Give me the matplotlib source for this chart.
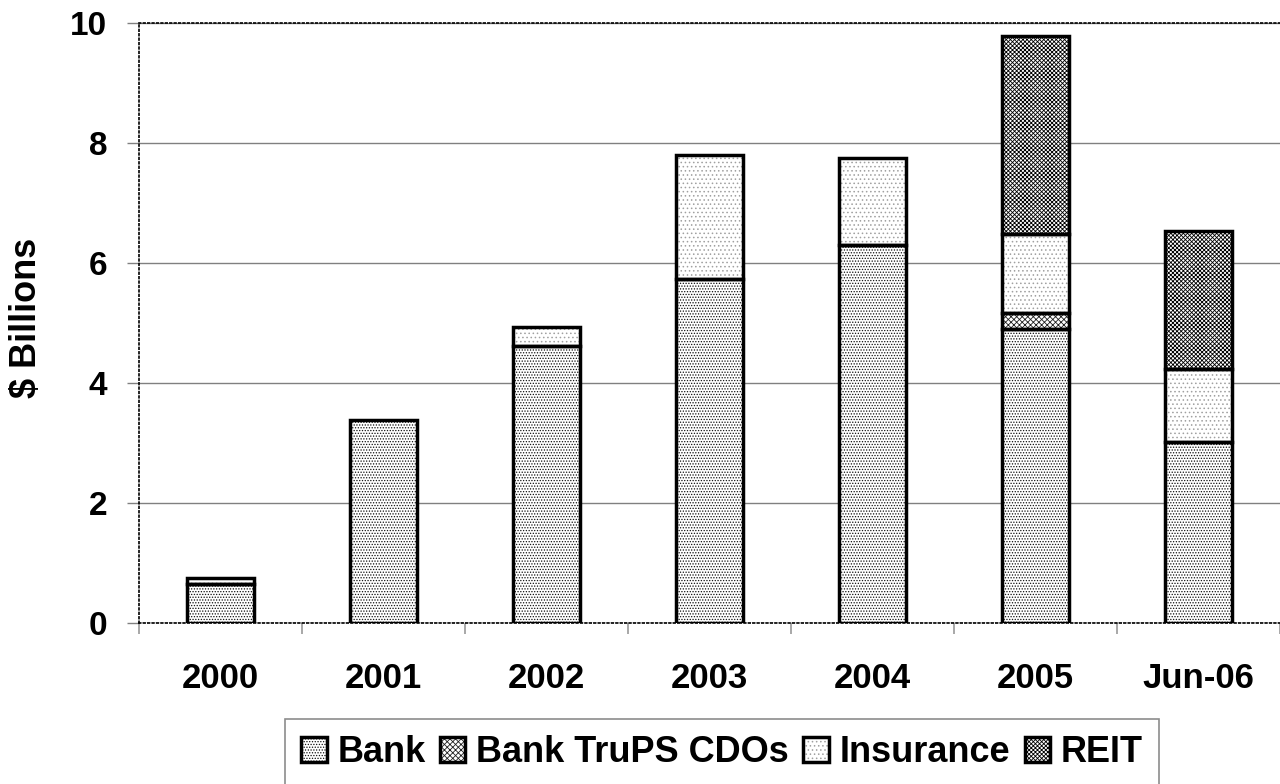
import matplotlib
matplotlib.use("Agg")
import matplotlib.pyplot as plt
import numpy as np
from matplotlib.ticker import FixedLocator

plt.rcParams['font.family'] = ['Liberation Sans', 'DejaVu Sans']
plt.rcParams['font.weight'] = 'bold'
plt.rcParams['hatch.linewidth'] = 0.6

periods = ["2000", "2001", "2002", "2003", "2004", "2005", "Jun-06"]
bank = [0.65, 3.38, 4.62, 5.73, 6.30, 4.90, 3.02]
bank_trups_cdos = [0.00, 0.00, 0.00, 0.00, 0.00, 0.27, 0.00]
insurance = [0.10, 0.00, 0.31, 2.07, 1.45, 1.31, 1.21]
reit = [0.00, 0.00, 0.00, 0.00, 0.00, 3.30, 2.30]

# name, values, hatch pattern, hatch colour
series = [
    ("Bank", bank, "......", "#101010"),
    ("Bank TruPS CDOs", bank_trups_cdos, "xxxxxx", "#202020"),
    ("Insurance", insurance, "....", "#a0a0a0"),
    ("REIT", reit, "xxxxxxxx", "#000000"),
]

fig = plt.figure(figsize=(12.8, 7.84), dpi=100)
ax = fig.add_axes([139 / 1280, 1 - 623 / 784, 1 - 139 / 1280, 600 / 784])

x = np.arange(len(periods))
bar_w = 0.41
bottom = np.zeros(len(periods))
handles = []
for name, vals, hatch, hcol in series:
    vals = np.array(vals)
    mask = vals > 0
    # textured fill
    fill = ax.bar(x[mask], vals[mask], width=bar_w, bottom=bottom[mask],
                  facecolor="white", edgecolor=hcol, linewidth=0,
                  hatch=hatch, zorder=3)
    # solid outline on top
    edge = ax.bar(x[mask], vals[mask], width=bar_w, bottom=bottom[mask],
                  fill=False, edgecolor="black", linewidth=2.5, zorder=4)
    handles.append((fill, edge))
    bottom = bottom + vals

ax.set_xlim(-0.5, len(periods) - 0.5)
ax.set_ylim(0, 10)

# y axis
ax.set_yticks(np.arange(0, 11, 2))
ax.tick_params(axis="y", direction="out", length=9, width=1, color="#808080",
               labelsize=24, pad=14)
ax.yaxis.grid(True, color="#808080", linewidth=1, zorder=0)
ax.set_ylabel("$ Billions", fontsize=26, fontweight="bold")
ax.yaxis.set_label_coords(-0.083, 0.508)

# x axis: labels at centers, ticks at boundaries
ax.set_xticks(x)
ax.set_xticklabels(periods)
ax.tick_params(axis="x", which="major", length=0, labelsize=25, pad=28)
ax.xaxis.set_minor_locator(FixedLocator(np.arange(-0.5, len(periods), 1.0)))
ax.tick_params(axis="x", which="minor", direction="out", length=8, width=1.2,
               color="#999999")

for s in ["left", "top", "bottom"]:
    ax.spines[s].set_linestyle(":")
    ax.spines[s].set_linewidth(1.2)
    ax.spines[s].set_color("black")
ax.spines["right"].set_visible(False)
ax.set_axisbelow(True)

leg = fig.legend(handles=handles, labels=[s[0] for s in series],
                 loc="upper left", bbox_to_anchor=(285 / 1280, 1 - 719 / 784),
                 ncol=4, fontsize=26, frameon=True, fancybox=False,
                 handlelength=0.7, handleheight=0.7, handletextpad=0.3,
                 columnspacing=0.4, borderpad=0.45, borderaxespad=0)
leg.get_frame().set_edgecolor("#707070")
leg.get_frame().set_linewidth(1.2)
for t in leg.get_texts():
    t.set_fontweight("bold")

fig.savefig("out.png", dpi=100)
